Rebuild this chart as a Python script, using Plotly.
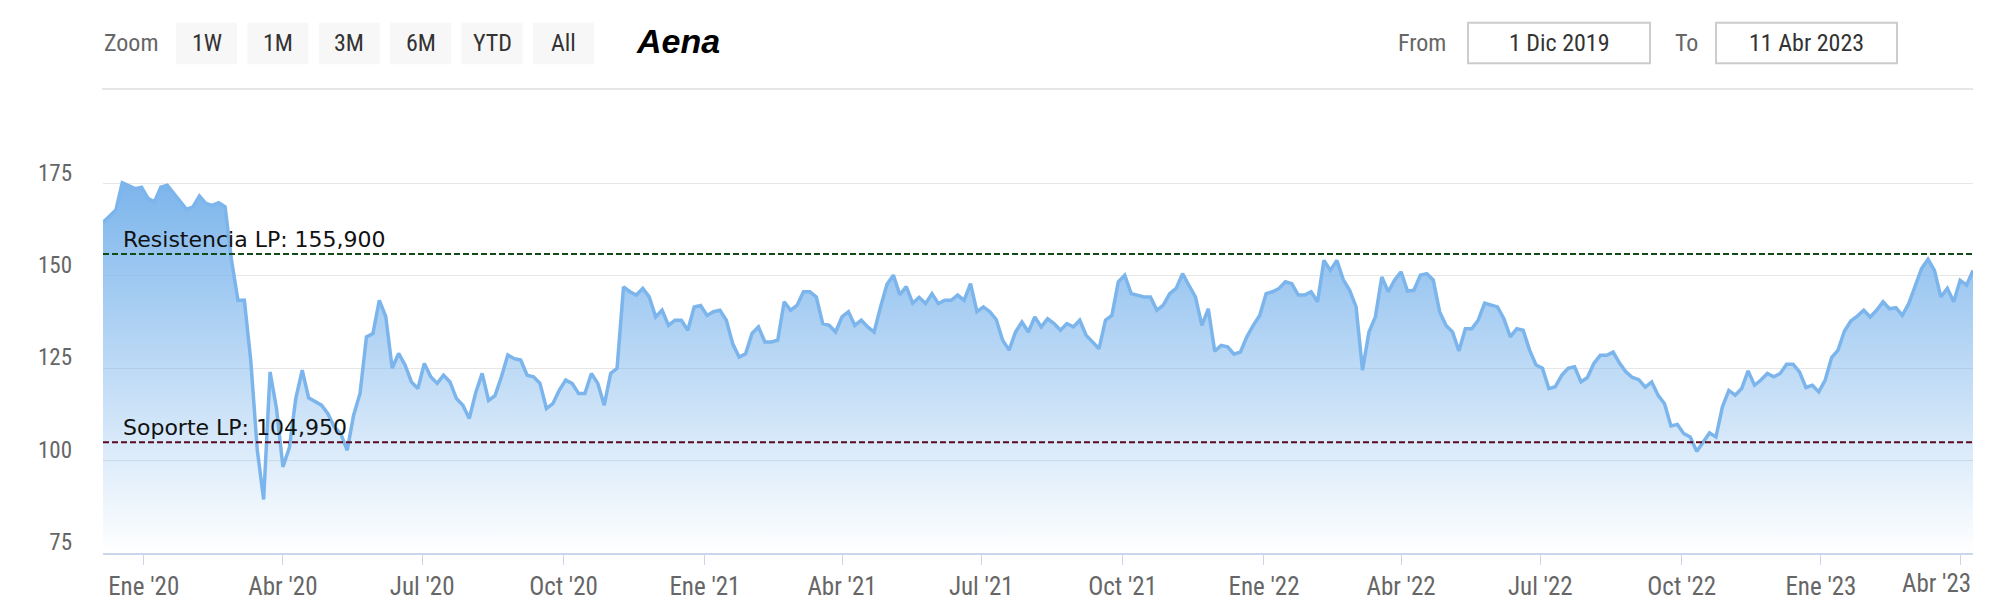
import pandas as pd
import plotly.graph_objects as go

# Aena close, one reading every 3 trading days from 5 Dec 2019 to 11 Apr 2023
start_date = "2019-12-05"
step = "3B"
close = [
    164.5, 166.2, 167.8, 175.2, 174.5, 173.6, 174.0, 171.0, 170.0, 174.0,
    174.5, 172.3, 170.0, 168.0, 168.7, 171.6, 169.6, 169.1, 169.8, 168.7,
    154.2, 143.4, 143.4, 127.0, 103.0, 89.5, 124.0, 114.1, 98.3, 103.5,
    116.8, 124.5, 117.0, 115.9, 115.0, 112.7, 109.1, 107.3, 102.8, 112.3,
    118.2, 133.5, 134.4, 143.4, 139.0, 125.0, 129.0, 125.9, 121.3, 119.5,
    126.3, 122.7, 120.9, 123.1, 121.3, 116.8, 115.0, 111.4, 118.4, 123.6,
    116.3, 117.6, 122.7, 128.6, 127.6, 127.2, 123.1, 122.7, 120.9, 114.1,
    115.4, 119.0, 121.8, 120.9, 118.2, 118.2, 123.6, 120.9, 115.0, 123.6,
    125.0, 147.0, 145.7, 144.8, 146.6, 144.3, 138.9, 140.7, 136.6, 138.0,
    138.0, 135.3, 141.6, 142.0, 139.3, 140.3, 140.7, 138.0, 131.6, 128.0,
    128.9, 134.4, 136.2, 132.1, 132.1, 132.6, 143.0, 140.7, 142.0, 145.7,
    145.7, 144.3, 137.1, 136.6, 134.8, 138.9, 140.3, 136.6, 138.0, 136.2,
    134.8, 141.6, 147.7, 150.2, 144.9, 147.1, 142.6, 144.2, 142.5, 145.2,
    142.5, 143.4, 143.4, 144.8, 143.4, 147.9, 140.3, 141.6, 140.3, 138.2,
    132.6, 129.9, 134.8, 137.5, 134.8, 138.9, 136.2, 138.4, 137.1, 135.3,
    137.1, 136.2, 138.0, 133.9, 132.1, 130.3, 138.0, 139.3, 148.4, 150.2,
    145.2, 144.8, 144.3, 144.3, 140.7, 142.1, 145.2, 146.6, 150.6, 147.4,
    144.3, 136.6, 141.1, 129.6, 131.2, 130.8, 128.8, 129.4, 133.5, 136.6,
    139.3, 145.2, 145.7, 146.6, 148.4, 147.9, 144.8, 144.8, 145.7, 143.0,
    154.2, 151.5, 154.2, 149.0, 146.1, 141.6, 124.5, 134.8, 138.9, 149.7,
    145.7, 148.9, 151.1, 145.9, 146.1, 150.2, 150.6, 148.9, 140.3, 136.6,
    134.8, 129.7, 135.7, 135.7, 138.0, 142.6, 142.1, 141.6, 138.4, 133.5,
    135.7, 135.3, 129.9, 125.9, 125.0, 119.5, 120.0, 123.1, 125.0, 125.4,
    121.3, 122.5, 126.3, 128.5, 128.5, 129.4, 126.4, 124.0, 122.5, 121.9,
    119.9, 121.3, 117.7, 115.4, 109.4, 109.8, 107.3, 106.4, 102.5, 105.0,
    107.5, 106.4, 114.5, 119.0, 117.7, 119.5, 124.3, 120.4, 121.8, 123.6,
    122.7, 123.6, 126.1, 126.1, 124.0, 119.8, 120.4, 118.6, 121.8, 127.9,
    129.9, 135.1, 137.8, 139.1, 140.7, 138.9, 140.7, 143.0, 141.1, 141.4,
    139.3, 142.5, 147.0, 152.0, 154.5, 151.5, 144.3, 146.6, 143.0, 148.8,
    147.5, 151.5,
]

resistance = 155.9
support = 104.95
resistance_label = "Resistencia LP: 155,900"
support_label = "Soporte LP: 104,950"

y_ticks = [75, 100, 125, 150, 175]
tick_dates = [
    "2020-01-01", "2020-04-01", "2020-07-01", "2020-10-01",
    "2021-01-01", "2021-04-01", "2021-07-01", "2021-10-01",
    "2022-01-03", "2022-04-01", "2022-07-01", "2022-10-03",
    "2023-01-02", "2023-04-03",
]
tick_labels = [
    "Ene '20", "Abr '20", "Jul '20", "Oct '20",
    "Ene '21", "Abr '21", "Jul '21", "Oct '21",
    "Ene '22", "Abr '22", "Jul '22", "Oct '22",
    "Ene '23", "Abr '23",
]

title = "Aena"
zoom_buttons = ["1W", "1M", "3M", "6M", "YTD", "All"]
from_date = "1 Dic 2019"
to_date = "11 Abr 2023"

W, H = 2000, 612
L, R, T, B = 103, 27, 100, 59
NARROW = "Liberation Sans Narrow, Roboto Condensed, DejaVu Sans Condensed, Arial Narrow, sans-serif"
BLUE = "124,181,236"


def px(x):
    return (x - L) / (W - L - R)


def py(y):
    return (H - B - y) / (H - T - B)


dates = pd.bdate_range(start_date, periods=len(close), freq=step)

fig = go.Figure()
fig.add_trace(
    go.Scatter(
        x=dates,
        y=close,
        mode="lines",
        line={"color": f"rgb({BLUE})", "width": 3.5},
        fill="tozeroy",
        fillgradient={
            "type": "vertical",
            "colorscale": [[0, f"rgba({BLUE},0)"], [1, f"rgba({BLUE},1)"]],
            "start": 75,
            "stop": max(close),
        },
        hoverinfo="skip",
        showlegend=False,
    )
)

shapes = [
    {"type": "line", "xref": "paper", "yref": "y", "x0": 0, "x1": 1, "y0": resistance, "y1": resistance,
     "line": {"color": "#0f4a17", "width": 2, "dash": "6px,3px"}},
    {"type": "line", "xref": "paper", "yref": "y", "x0": 0, "x1": 1, "y0": support, "y1": support,
     "line": {"color": "#5a0a1e", "width": 2, "dash": "6px,3px"}},
    {"type": "line", "xref": "paper", "yref": "paper", "x0": px(102), "x1": px(1973), "y0": py(89), "y1": py(89),
     "line": {"color": "#e6e6e6", "width": 2}},
]
annotations = [
    {"text": resistance_label, "xref": "paper", "yref": "y", "x": px(121), "y": resistance,
     "xanchor": "left", "yanchor": "bottom", "showarrow": False,
     "font": {"family": "DejaVu Sans", "size": 22, "color": "#111111"}},
    {"text": support_label, "xref": "paper", "yref": "y", "x": px(121), "y": support,
     "xanchor": "left", "yanchor": "bottom", "showarrow": False,
     "font": {"family": "DejaVu Sans", "size": 22, "color": "#111111"}},
    {"text": "Zoom", "xref": "paper", "yref": "paper", "x": px(102), "y": py(43.5),
     "xanchor": "left", "yanchor": "middle", "showarrow": False,
     "font": {"family": NARROW, "size": 24, "color": "#666666"}},
    {"text": f"<b><i>{title}</i></b>", "xref": "paper", "yref": "paper", "x": px(678), "y": py(41),
     "xanchor": "center", "yanchor": "middle", "showarrow": False,
     "font": {"family": "Liberation Sans, Arial, sans-serif", "size": 34, "color": "#000000"}},
    {"text": "From", "xref": "paper", "yref": "paper", "x": px(1396), "y": py(43.5),
     "xanchor": "left", "yanchor": "middle", "showarrow": False,
     "font": {"family": NARROW, "size": 24, "color": "#666666"}},
    {"text": "To", "xref": "paper", "yref": "paper", "x": px(1673), "y": py(43.5),
     "xanchor": "left", "yanchor": "middle", "showarrow": False,
     "font": {"family": NARROW, "size": 24, "color": "#666666"}},
    # last month label is kept inside the chart, as the original does
    {"text": tick_labels[-1], "xref": "paper", "yref": "paper", "x": 1, "y": 0, "yshift": -14,
     "xanchor": "right", "yanchor": "top", "showarrow": False,
     "font": {"family": NARROW, "size": 25, "color": "#666666"}},
]

for i, label in enumerate(zoom_buttons):
    x0 = 176 + 71.4 * i
    shapes.append({"type": "rect", "xref": "paper", "yref": "paper",
                   "x0": px(x0), "x1": px(x0 + 61), "y0": py(64.3), "y1": py(22.7),
                   "fillcolor": "#f7f7f7", "line": {"width": 0}})
    annotations.append({"text": label, "xref": "paper", "yref": "paper", "x": px(x0 + 30.5), "y": py(43.5),
                        "xanchor": "center", "yanchor": "middle", "showarrow": False,
                        "font": {"family": NARROW, "size": 24, "color": "#333333"}})

for (x0, x1), label in zip([(1468, 1650), (1716, 1897)], [from_date, to_date]):
    shapes.append({"type": "rect", "xref": "paper", "yref": "paper",
                   "x0": px(x0), "x1": px(x1), "y0": py(63.3), "y1": py(22.7),
                   "fillcolor": "#ffffff", "line": {"color": "#cccccc", "width": 2}})
    annotations.append({"text": label, "xref": "paper", "yref": "paper", "x": px((x0 + x1) / 2), "y": py(43.5),
                        "xanchor": "center", "yanchor": "middle", "showarrow": False,
                        "font": {"family": NARROW, "size": 24, "color": "#333333"}})

fig.update_layout(
    width=W,
    height=H,
    margin={"l": L, "r": R, "t": T, "b": B, "pad": 0, "autoexpand": False},
    paper_bgcolor="#ffffff",
    plot_bgcolor="#ffffff",
    showlegend=False,
    shapes=shapes,
    annotations=annotations,
    font={"family": NARROW, "color": "#666666", "size": 24},
    xaxis={
        "type": "date",
        "automargin": False,
        "range": [dates[0], dates[-1]],
        "rangebreaks": [{"bounds": ["sat", "mon"]}],
        "tickmode": "array",
        "tickvals": tick_dates,
        "ticktext": tick_labels[:-1] + [""],
        "ticks": "outside",
        "ticklen": 10,
        "tickcolor": "#ccd6eb",
        "tickwidth": 1,
        "showgrid": False,
        "showline": True,
        "linecolor": "#ccd6eb",
        "linewidth": 2,
        "zeroline": False,
        "tickfont": {"family": NARROW, "size": 25, "color": "#666666"},
    },
    yaxis={
        "automargin": False,
        "range": [75, 197.6],
        "tickmode": "array",
        "tickvals": y_ticks,
        "ticks": "",
        "showgrid": True,
        "gridcolor": "#e6e6e6",
        "gridwidth": 1,
        "zeroline": False,
        "showline": False,
        "ticklabelshift": -11,
        "ticklabelstandoff": 30,
        "tickfont": {"family": NARROW, "size": 23, "color": "#666666"},
    },
)

fig.write_html(
    "out.html",
    config={"displayModeBar": False},
    post_script="document.body.style.margin = '0';",
)
